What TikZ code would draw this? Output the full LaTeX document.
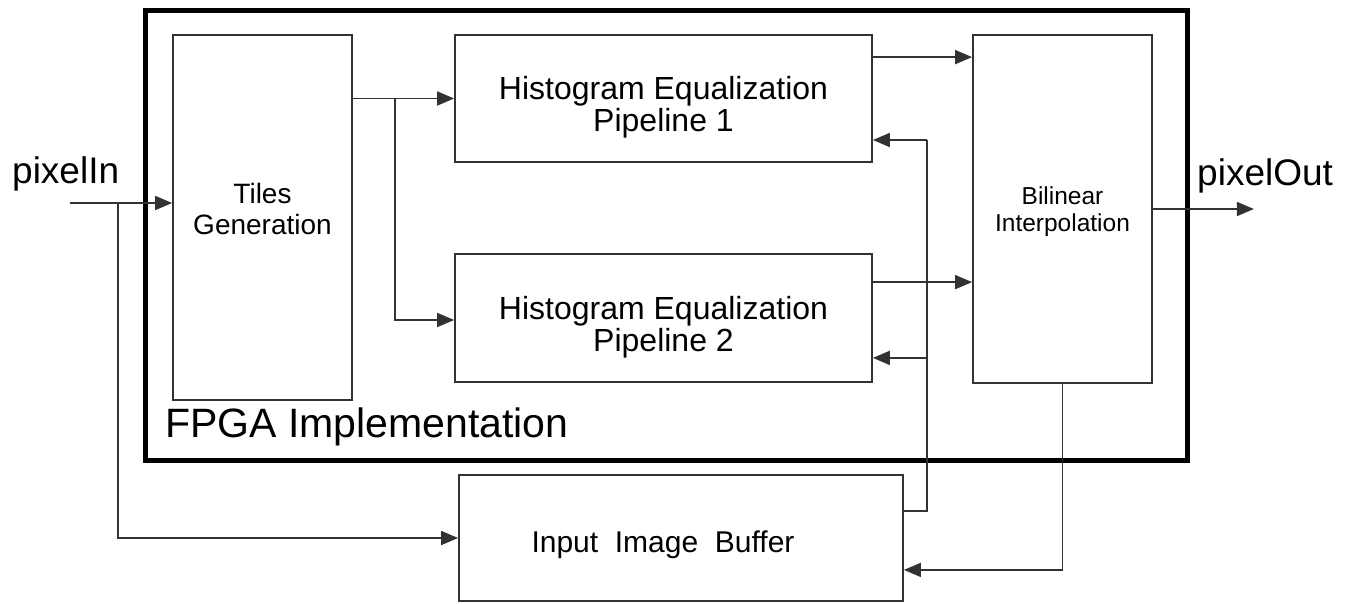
\documentclass[tikz,border=0pt]{standalone}
\usepackage{fontspec}
\setmainfont{Liberation Sans}
\usetikzlibrary{arrows.meta, positioning, calc}
\definecolor{LineGray}  {RGB}{ 50,  50,  50}
\definecolor{FrameBlack}{RGB}{  0,   0,   0}
% block text, moved up or down inside its box
\newcommand{\blocklines}[2]{\raisebox{#1}[0pt][0pt]{\begin{tabular}{@{}c@{}}#2\end{tabular}}}
\tikzset{
  % Processing block
  block/.style={
    rectangle, draw=LineGray, line width=1.8pt, fill=white,
    align=center, inner sep=0pt
  },
  % Font sizes of the block texts
  bigtext/.style={font=\fontsize{32}{30}\selectfont},
  midtext/.style={font=\fontsize{28}{31}\selectfont},
  smalltext/.style={font=\fontsize{24.5}{27}\selectfont},
  % Signal label
  sig/.style={font=\fontsize{37}{40}\selectfont, inner sep=0pt},
  % Arrow style
  flow/.style={
    -{Triangle[length=17pt, width=14pt]}, line width=1.8pt, color=LineGray
  },
  wire/.style={line width=1.8pt, color=LineGray}
}

\begin{document}
\begin{tikzpicture}[x=1pt, y=-1pt]
  \useasboundingbox (0,0) rectangle (1348,603);

  % ── FPGA frame ────────────────────────────────────────────────────────────
  \draw[FrameBlack, line width=5pt] (145,10) rectangle (1187,460);
  \node[anchor=base west, inner sep=0pt, font=\fontsize{41}{44}\selectfont]
       (fpga) at (165,437) {FPGA Implementation};

  % ── Blocks ────────────────────────────────────────────────────────────────
  \node[block, midtext, minimum width=179pt, minimum height=365pt]
       (tiles) at (262.5,217.5) {\blocklines{-1.8pt}{Tiles\\Generation}};
  \node[block, bigtext, minimum width=417pt, minimum height=127pt]
       (hep1) at (663.5,98.5) {\blocklines{-16.5pt}{Histogram Equalization\\Pipeline 1}};
  \node[block, bigtext, minimum width=417pt, minimum height=128pt]
       (hep2) at (663.5,318) {\blocklines{-16.5pt}{Histogram Equalization\\Pipeline 2}};
  \node[block, smalltext, minimum width=179pt, minimum height=348pt]
       (bilin) at (1062.5,209) {\blocklines{-10.2pt}{Bilinear\\Interpolation}};
  \node[block, font=\fontsize{30}{33}\selectfont, minimum width=444pt, minimum height=126pt]
       (buffer) at (681,538) {\blocklines{-13.9pt}{Input\ \ Image\ \ Buffer}\hspace*{36pt}};

  % ── Signals ───────────────────────────────────────────────────────────────
  \node[sig, anchor=base west] (pin)  at (12,183)   {pixelIn};
  \node[sig, anchor=base west] (pout) at (1197,185) {pixelOut};
  \coordinate (in)    at (70,203);
  \coordinate (split) at (118,203);
  \coordinate (fork)  at (395,98.5);
  \coordinate (fb)    at (927,140);

  % ── Edges: input side ─────────────────────────────────────────────────────
  \draw[flow] (in) -- (in -| tiles.west);
  \draw[flow] (split) |- (buffer.west);
  \draw[flow] (tiles.east |- hep1.west) -- (hep1.west);
  \draw[flow] (fork) |- ([yshift=-2]hep2.west);

  % ── Edges: pipelines → interpolation ──────────────────────────────────────
  \draw[flow] ([yshift=-23]hep1.north east) -- ([yshift=-23]hep1.north east -| bilin.west);
  \draw[flow] ([yshift=-29]hep2.north east) -- ([yshift=-29]hep2.north east -| bilin.west);

  % ── Edges: buffer feedback ────────────────────────────────────────────────
  \draw[wire] ([yshift=-37]buffer.north east) -| (fb);
  \draw[flow] (fb) -- (fb -| hep1.east);
  \draw[flow] ([yshift=25]hep2.south east -| fb) -- ([yshift=25]hep2.south east);
  \draw[flow] (bilin.south) |- ([yshift=32]buffer.south east);

  % ── Edge: output ──────────────────────────────────────────────────────────
  \draw[flow] (bilin.east) -- ++(101,0);

\end{tikzpicture}
\end{document}
